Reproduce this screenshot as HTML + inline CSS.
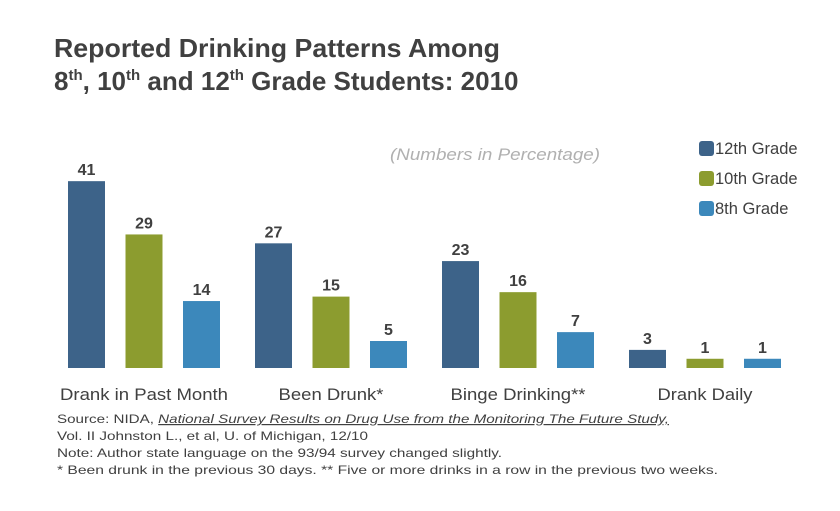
<!DOCTYPE html>
<html><head><meta charset="utf-8">
<style>
body{margin:0;background:#fff;width:840px;height:506px;overflow:hidden;font-family:"Liberation Sans",sans-serif;}
svg text{font-family:"Liberation Sans",sans-serif;}
</style></head>
<body>
<svg width="840" height="506">
<text x="54" y="57" font-size="26" font-weight="bold" fill="#404040" textLength="446" lengthAdjust="spacingAndGlyphs">Reported Drinking Patterns Among</text>
<text x="54" y="90" font-size="26" font-weight="bold" fill="#404040">8<tspan font-size="15" dy="-10">th</tspan><tspan dy="10">, 10</tspan><tspan font-size="15" dy="-10">th</tspan><tspan dy="10"> and 12</tspan><tspan font-size="15" dy="-10">th</tspan><tspan dy="10"> Grade Students: 2010</tspan></text>
<text x="390" y="160" font-size="17" font-style="italic" fill="#b0b0b0" textLength="210" lengthAdjust="spacingAndGlyphs">(Numbers in Percentage)</text>
<g id="bars"></g>
<g id="legend"></g>
<text x="57" y="423" font-size="12" fill="#404040" textLength="612" lengthAdjust="spacingAndGlyphs">Source: NIDA, <tspan font-style="italic" text-decoration="underline">National Survey Results on Drug Use from the Monitoring The Future Study,</tspan></text>
<text x="57" y="440" font-size="12" fill="#404040" textLength="311" lengthAdjust="spacingAndGlyphs">Vol. II Johnston L., et al, U. of Michigan,  12/10</text>
<text x="57" y="457" font-size="12" fill="#404040" textLength="445" lengthAdjust="spacingAndGlyphs">Note: Author state language on the 93/94 survey changed slightly.</text>
<text x="57" y="474" font-size="12" fill="#404040" textLength="661" lengthAdjust="spacingAndGlyphs">* Been drunk in the previous 30 days.  ** Five or more drinks in a row in the previous two weeks.</text>
</svg>
<script>
const categories=["Drank in Past Month","Been Drunk*","Binge Drinking**","Drank Daily"];
const series=["12th Grade","10th Grade","8th Grade"];
const grade12=[41,27,23,3];
const grade10=[29,15,16,1];
const grade8=[14,5,7,1];
const colors=["#3d6389","#8c9c2f","#3c88bb"];
const NS="http://www.w3.org/2000/svg";
const baseY=368, unit=4.44, axisMin=-1.08, groupX0=68, groupStep=187, barStep=57.5, barW=37;
const yScale=v=>baseY-(v-axisMin)*unit;
const xScale=(g,s)=>groupX0+g*groupStep+s*barStep;
const labelW=[168,105,135,95];
const bars=document.getElementById('bars');
const all=[grade12,grade10,grade8];
function mk(tag,attrs){const e=document.createElementNS(NS,tag);for(const k in attrs)e.setAttribute(k,attrs[k]);return e;}
categories.forEach((c,g)=>{
  all.forEach((arr,s)=>{
    const x=xScale(g,s),y=yScale(arr[g]);
    const r=mk('rect',{x:x,y:y,width:barW,height:baseY-y,fill:colors[s]});
    
    
    bars.appendChild(r);
    const t=mk('text',{x:x+barW/2,y:y-6,'text-anchor':'middle','font-size':'16','font-weight':'bold',fill:'#404040'});
    t.textContent=arr[g];
    
    
    bars.appendChild(t);
  });
  const cx=xScale(g,1)+barW/2;
  const l=mk('text',{x:cx-labelW[g]/2,y:400,'font-size':'16.5',fill:'#404040',textLength:labelW[g],lengthAdjust:'spacingAndGlyphs'});
  l.textContent=c;
  
  
  bars.appendChild(l);
});
const leg=document.getElementById('legend');
series.forEach((s,i)=>{
  const y=141+i*30;
  const r=mk('rect',{x:699,y:y,width:15,height:15,rx:3,fill:colors[i]});
  
  
  leg.appendChild(r);
  const t=mk('text',{x:715,y:y+13,'font-size':'16.5',fill:'#404040'});
  t.textContent=s;
  
  
  leg.appendChild(t);
});
</script>
</body></html>
